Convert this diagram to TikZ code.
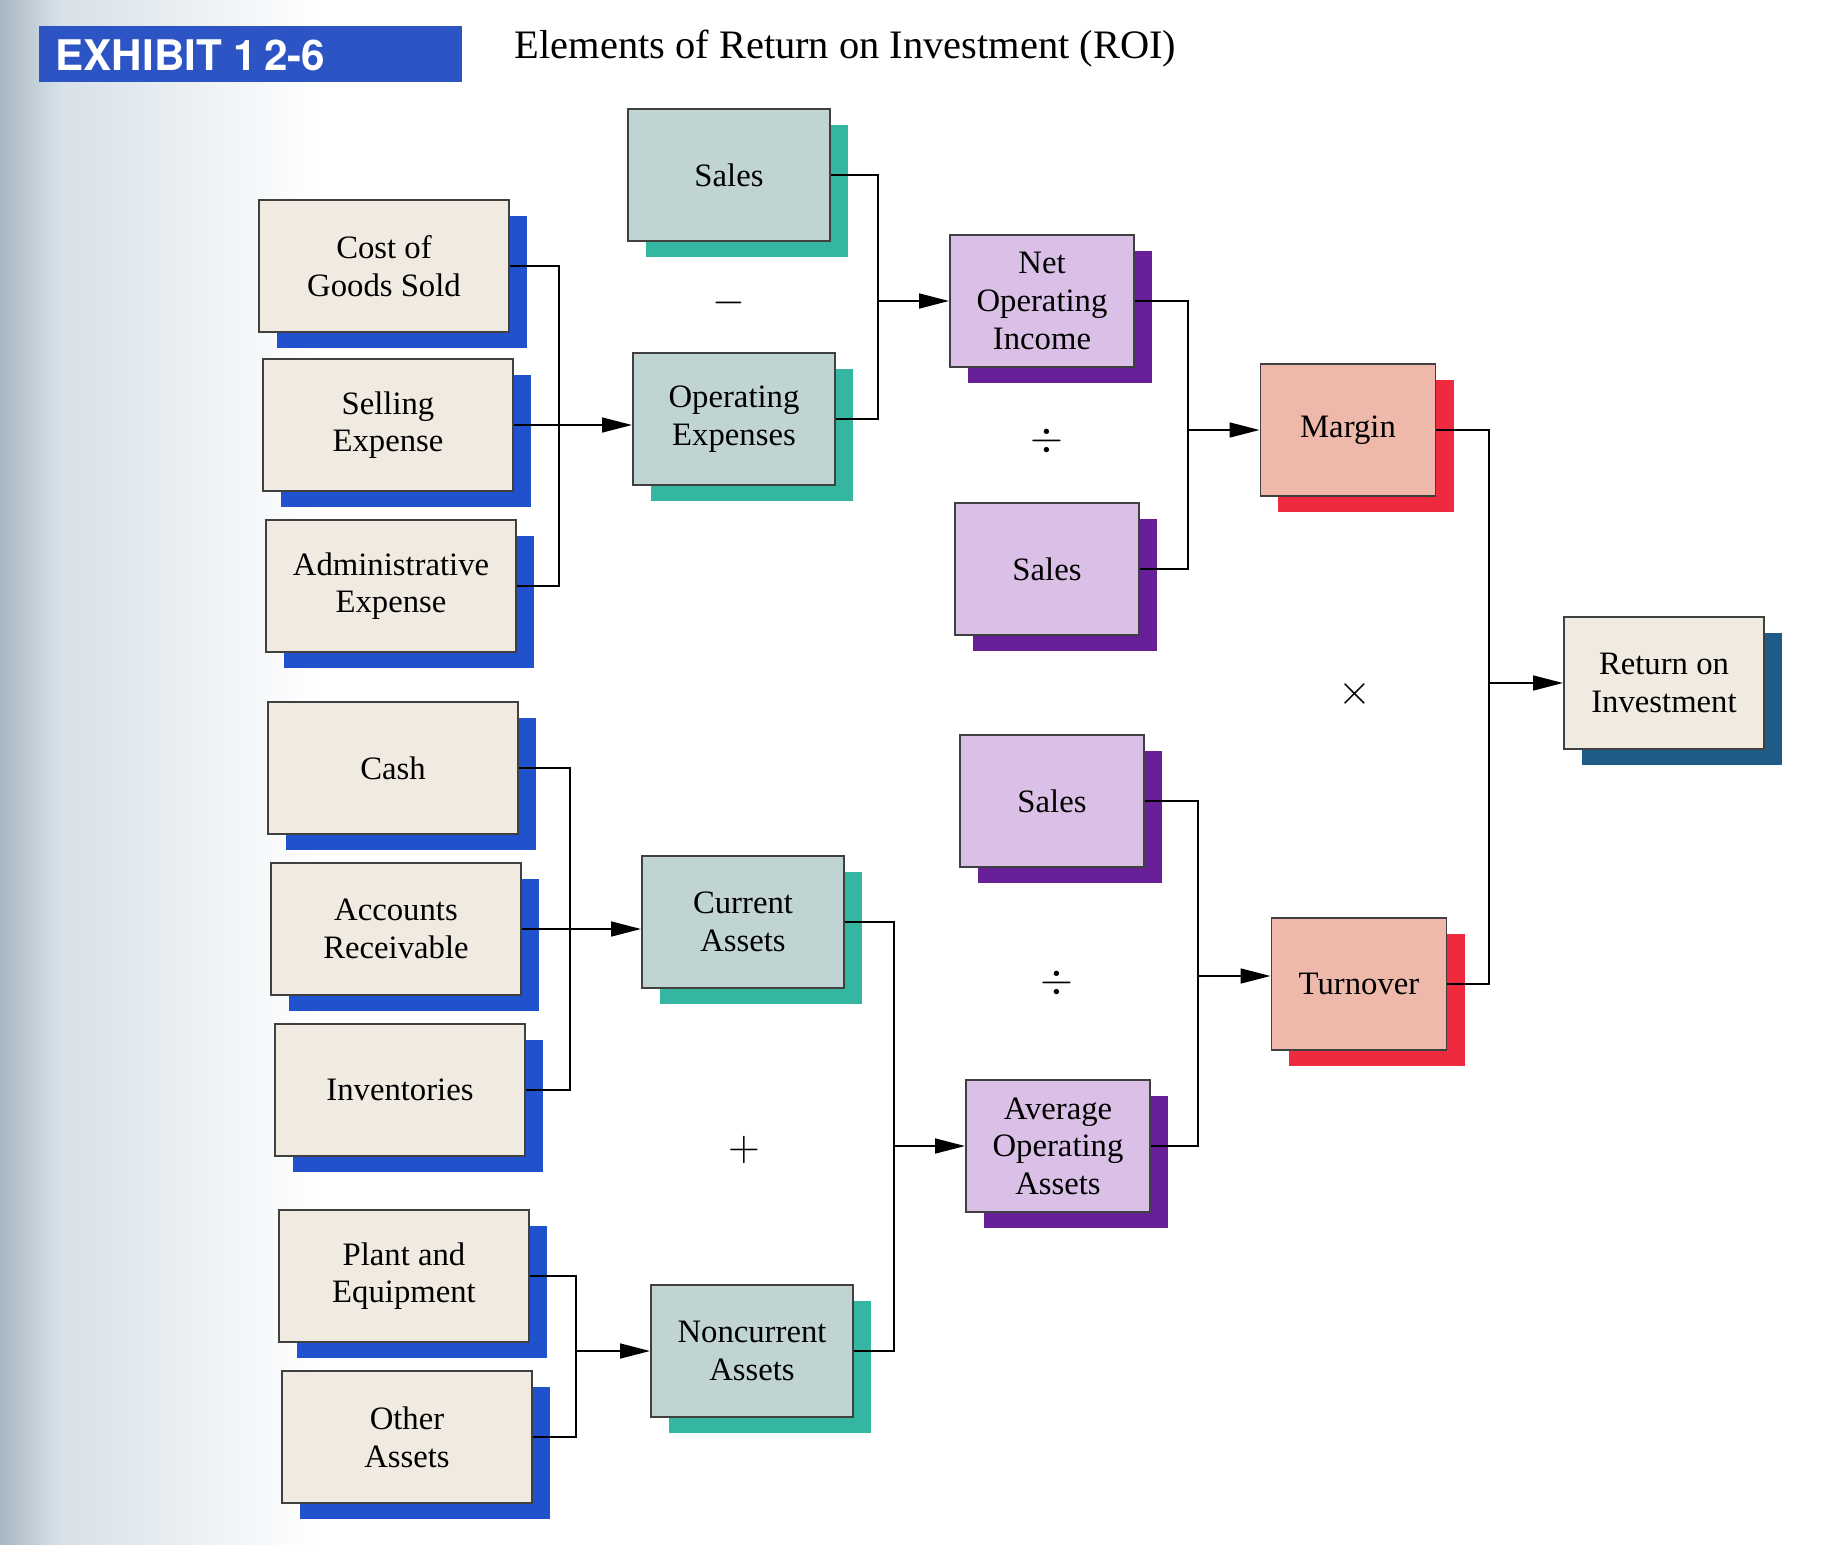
\documentclass[tikz,border=0pt]{standalone}
\usepackage{fontspec}
\setmainfont{Liberation Serif}
\newfontfamily\bannerfont{TeX Gyre Heros}
\usetikzlibrary{shadows,arrows.meta}

\definecolor{beige}{RGB}{240,234,225}
\definecolor{beigesh}{RGB}{32,82,205}
\definecolor{tealf}{RGB}{192,212,212}
\definecolor{tealsh}{RGB}{52,182,160}
\definecolor{purpf}{RGB}{218,192,230}
\definecolor{purpsh}{RGB}{104,32,152}
\definecolor{salf}{RGB}{238,184,170}
\definecolor{salsh}{RGB}{238,42,62}
\definecolor{roish}{RGB}{30,92,135}
\definecolor{bannerblue}{RGB}{44,84,196}
\definecolor{scanA}{RGB}{168,183,195}
\definecolor{scanB}{RGB}{215,225,232}

\begin{document}
\begin{tikzpicture}[x=0.01cm,y=-0.01cm,
 box/.style={draw=black!75, line width=0.5pt, align=center, inner sep=0pt,
   minimum height=1.32cm, font=\fontsize{9.3}{10.7}\selectfont},
 shad/.style={drop shadow={shadow xshift=0.18cm, shadow yshift=-0.16cm, fill=#1, opacity=1}},
 leaf/.style={box, fill=beige, minimum width=2.5cm, shad=beigesh},
 tealbox/.style={box, fill=tealf, minimum width=2.02cm, shad=tealsh},
 purpbox/.style={box, fill=purpf, minimum width=1.84cm, shad=purpsh},
 salbox/.style={box, fill=salf, minimum width=1.75cm, shad=salsh},
 roibox/.style={box, fill=beige, minimum width=2.0cm, shad=roish},
 conn/.style={line width=0.6pt, draw=black},
 arr/.style={conn, -{Triangle[length=8.5pt,width=4.2pt]}},
 op/.style={font=\fontsize{13}{15}\selectfont, inner sep=0pt}
]
\useasboundingbox (0,0) rectangle (1844,1545);
% scanned page edge
\shade[left color=scanA, right color=scanB] (0,0) rectangle (60,1545);
\shade[left color=scanB, right color=white] (60,0) rectangle (320,1545);

% header
\node[fill=bannerblue, minimum width=4.23cm, minimum height=0.56cm, inner sep=0pt] (banner) at (250.5,54) {};
\node[anchor=west, text=white, inner sep=0pt, font=\bannerfont\bfseries\fontsize{12}{14}\selectfont] (bannertext) at (55,55) {EXHIBIT 1\,2-6};
\node[anchor=base west, inner sep=0pt, font=\fontsize{11.5}{14}\selectfont] (title) at (514,58) {Elements of Return on Investment (ROI)};

% boxes
\node[leaf] (cogs) at (384,266) {Cost of\\Goods Sold};
\node[leaf] (sell) at (388,425) {Selling\\Expense};
\node[leaf] (admin) at (391,586) {Administrative\\Expense};
\node[tealbox] (salesA) at (729,175) {Sales};
\node[tealbox] (opex) at (734,419) {Operating\\Expenses};
\node[purpbox] (noi) at (1042,301) {Net\\Operating\\Income};
\node[purpbox] (salesB) at (1047,569) {Sales};
\node[salbox] (margin) at (1348,430) {Margin};
\node[roibox] (roi) at (1664,683) {Return on\\Investment};
\node[leaf] (cash) at (393,768) {Cash};
\node[leaf] (ar) at (396,929) {Accounts\\Receivable};
\node[leaf] (inv) at (400,1090) {Inventories};
\node[tealbox] (curr) at (743,922) {Current\\Assets};
\node[leaf] (plant) at (404,1276) {Plant and\\Equipment};
\node[leaf] (other) at (407,1437) {Other\\Assets};
\node[tealbox] (noncurr) at (752,1351) {Noncurrent\\Assets};
\node[purpbox] (salesC) at (1052,801) {Sales};
\node[purpbox] (aoa) at (1058,1146) {Average\\Operating\\Assets};
\node[salbox] (turn) at (1359,984) {Turnover};

% operators
\node[op] (minus) at (729,303) {$-$};
\node[op] (div1) at (1047,441) {$\div$};
\node[op] (times) at (1355,694) {$\times$};
\node[op] (div2) at (1057,983) {$\div$};
\node[op] (plus) at (744,1150) {$+$};

% bus lines
\coordinate (b1) at (559,0);
\coordinate (b2) at (878,0);
\coordinate (b3) at (1188,0);
\coordinate (b4) at (1489,0);
\coordinate (b5) at (570,0);
\coordinate (b6) at (894,0);
\coordinate (b7) at (1198,0);
\coordinate (b8) at (576,0);
\coordinate (t7) at (1198,976);

\draw[conn] (cogs.east) -| (b1 |- admin.east) -- (admin.east);
\draw[arr] (sell.east) -- (sell.east -| opex.west);
\draw[conn] (salesA.east) -| (b2 |- opex.east) -- (opex.east);
\draw[arr] (b2 |- noi.west) -- (noi.west);
\draw[conn] (noi.east) -| (b3 |- salesB.east) -- (salesB.east);
\draw[arr] (b3 |- margin.west) -- (margin.west);
\draw[conn] (margin.east) -| (b4 |- turn.east) -- (turn.east);
\draw[arr] (b4 |- roi.west) -- (roi.west);
\draw[conn] (cash.east) -| (b5 |- inv.east) -- (inv.east);
\draw[arr] (ar.east) -- (ar.east -| curr.west);
\draw[conn] (curr.east) -| (b6 |- noncurr.east) -- (noncurr.east);
\draw[arr] (b6 |- aoa.west) -- (aoa.west);
\draw[conn] (salesC.east) -| (b7 |- aoa.east) -- (aoa.east);
\draw[arr] (t7) -- (t7 -| turn.west);
\draw[conn] (plant.east) -| (b8 |- other.east) -- (other.east);
\draw[arr] (b8 |- noncurr.west) -- (noncurr.west);
\end{tikzpicture}
\end{document}
